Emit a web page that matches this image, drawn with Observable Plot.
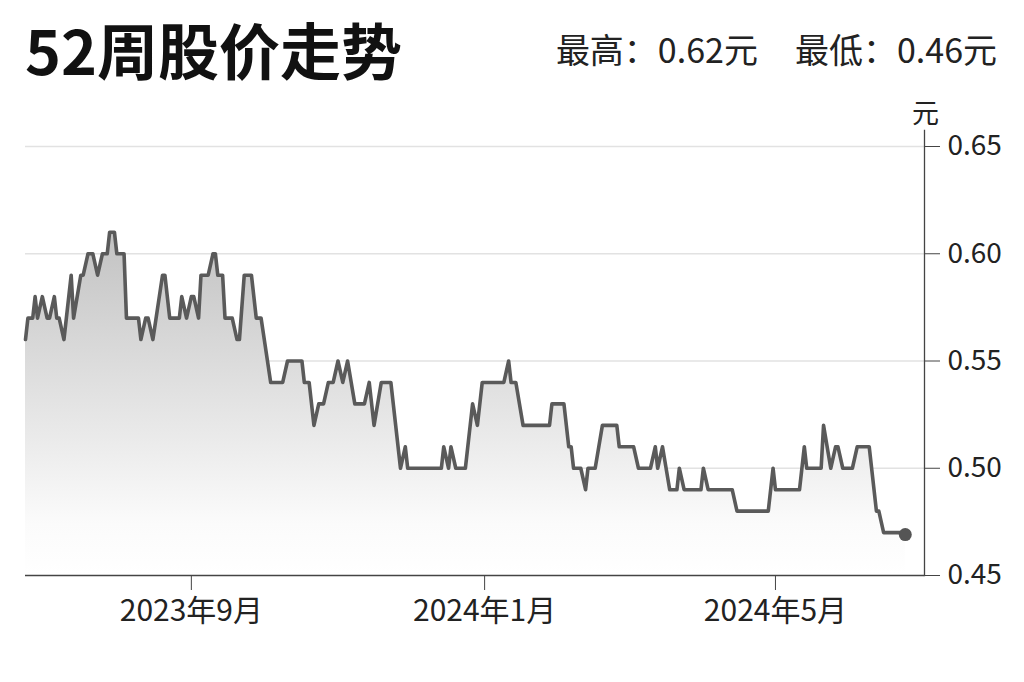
<!DOCTYPE html>
<html>
<head>
<meta charset="utf-8">
<script src="https://cdn.jsdelivr.net/npm/d3@7"></script>
<script src="https://cdn.jsdelivr.net/npm/@observablehq/plot@0.6"></script>
<style>
  body { margin: 0; background: #fff; font-family: "Noto Sans CJK SC", "Noto Sans", sans-serif; }
  #wrap { position: relative; width: 1024px; height: 682px; overflow: hidden; }
  #header { position: relative; height: 100px; }
  #title { position: absolute; left: 25px; top: 18px; font-size: 61px; font-weight: 700; color: #111; line-height: 1; white-space: nowrap; }
  #stats { position: absolute; right: 27px; top: 32px; font-size: 34px; color: #222; line-height: 1; white-space: nowrap; }
  #stats span + span { margin-left: 37px; }
  #unit { position: absolute; left: 912px; top: 98px; font-size: 27px; color: #222; line-height: 1; }
</style>
</head>
<body>
<div id="wrap">
  <div id="header">
    <div id="title"></div>
    <div id="stats"></div>
  </div>
  <div id="unit"></div>
  <div id="chart"></div>
</div>
<script>
// ---- data ----
const title = "52周股价走势";
const statLabels = ["最高：0.62元", "最低：0.46元"];
const unitLabel = "元";

const dates = [
  "2023-06-24","2023-06-25","2023-06-27","2023-06-28","2023-06-29","2023-07-01","2023-07-03","2023-07-04",
  "2023-07-06","2023-07-07","2023-07-08","2023-07-10","2023-07-13","2023-07-14","2023-07-17","2023-07-18",
  "2023-07-20","2023-07-22","2023-07-24","2023-07-26","2023-07-28","2023-07-29","2023-07-31","2023-08-01",
  "2023-08-04","2023-08-05","2023-08-10","2023-08-11","2023-08-13","2023-08-14","2023-08-16","2023-08-20",
  "2023-08-21","2023-08-23","2023-08-27","2023-08-28","2023-08-30","2023-09-01","2023-09-02","2023-09-04",
  "2023-09-05","2023-09-08","2023-09-10","2023-09-11","2023-09-12","2023-09-14","2023-09-15","2023-09-18",
  "2023-09-20","2023-09-21","2023-09-23","2023-09-26","2023-09-28","2023-09-30","2023-10-04","2023-10-09",
  "2023-10-11","2023-10-17","2023-10-18","2023-10-20","2023-10-22","2023-10-24","2023-10-26","2023-10-28",
  "2023-10-30","2023-11-01","2023-11-03","2023-11-05","2023-11-08","2023-11-12","2023-11-14","2023-11-16",
  "2023-11-19","2023-11-23","2023-11-27","2023-11-29","2023-11-30","2023-12-14","2023-12-15","2023-12-17",
  "2023-12-18","2023-12-20","2023-12-24","2023-12-27","2023-12-29","2023-12-31","2024-01-09","2024-01-11",
  "2024-01-12","2024-01-14","2024-01-17","2024-01-28","2024-01-29","2024-02-03","2024-02-05","2024-02-06",
  "2024-02-07","2024-02-10","2024-02-12","2024-02-13","2024-02-16","2024-02-19","2024-02-25","2024-02-26",
  "2024-03-03","2024-03-05","2024-03-10","2024-03-12","2024-03-13","2024-03-15","2024-03-18","2024-03-21",
  "2024-03-22","2024-03-24","2024-03-31","2024-04-01","2024-04-03","2024-04-13","2024-04-15","2024-04-28",
  "2024-04-30","2024-05-01","2024-05-11","2024-05-13","2024-05-14","2024-05-20","2024-05-21","2024-05-24",
  "2024-05-26","2024-05-27","2024-05-29","2024-06-02","2024-06-04","2024-06-09","2024-06-12","2024-06-13",
  "2024-06-15","2024-06-24"
];
const prices = [
  0.56,0.57,0.57,0.58,0.57,0.58,0.57,0.57,
  0.58,0.57,0.57,0.56,0.59,0.57,0.59,0.59,
  0.60,0.60,0.59,0.60,0.60,0.61,0.61,0.60,
  0.60,0.57,0.57,0.56,0.57,0.57,0.56,0.59,
  0.59,0.57,0.57,0.58,0.57,0.58,0.58,0.57,
  0.59,0.59,0.60,0.60,0.59,0.59,0.57,0.57,
  0.56,0.56,0.59,0.59,0.57,0.57,0.54,0.54,
  0.55,0.55,0.54,0.54,0.52,0.53,0.53,0.54,
  0.54,0.55,0.54,0.55,0.53,0.53,0.54,0.52,
  0.54,0.54,0.50,0.51,0.50,0.50,0.51,0.50,
  0.51,0.50,0.50,0.53,0.52,0.54,0.54,0.55,
  0.54,0.54,0.52,0.52,0.53,0.53,0.51,0.51,
  0.50,0.50,0.49,0.50,0.50,0.52,0.52,0.51,
  0.51,0.50,0.50,0.51,0.50,0.51,0.49,0.49,
  0.50,0.49,0.49,0.50,0.49,0.49,0.48,0.48,
  0.50,0.49,0.49,0.51,0.50,0.50,0.52,0.50,
  0.51,0.51,0.50,0.50,0.51,0.51,0.48,0.48,
  0.47,0.47
];
const xDomain = ["2023-06-24", "2024-07-02"];
const xTicks = ["2023-09-01", "2024-01-01", "2024-05-01"];
const xTickLabels = ["2023年9月", "2024年1月", "2024年5月"];
const yDomain = [0.45, 0.65];
const yTicks = [0.45, 0.50, 0.55, 0.60, 0.65];

// ---- header ----
document.getElementById("title").textContent = title;
document.getElementById("stats").innerHTML = statLabels.map(s => `<span>${s}</span>`).join("");
document.getElementById("unit").textContent = unitLabel;

// ---- chart ----
const data = dates.map((d, i) => ({ date: new Date(d), price: prices[i] }));
const tickDates = xTicks.map(d => new Date(d));

const gradient = () => {
  const defs = d3.create("svg:defs");
  const g = defs.append("linearGradient")
    .attr("id", "fade").attr("x1", 0).attr("y1", 0).attr("x2", 0).attr("y2", 1);
  g.append("stop").attr("offset", "0%").attr("stop-color", "#c2c2c2");
  g.append("stop").attr("offset", "85%").attr("stop-color", "#fbfbfb");
  g.append("stop").attr("offset", "100%").attr("stop-color", "#ffffff");
  return defs.node();
};

const chart = Plot.plot({
  width: 1024,
  height: 582,
  marginTop: 30,
  insetTop: 16,
  marginBottom: 107,
  marginLeft: 25,
  marginRight: 100,
  style: { fontFamily: "'Noto Sans CJK SC', 'Noto Sans', sans-serif", color: "#222", background: "#fff" },
  x: { type: "utc", domain: xDomain.map(d => new Date(d)) },
  y: { domain: yDomain },
  marks: [
    gradient,
    Plot.gridY(yTicks.slice(1), { stroke: "#e2e2e2", strokeOpacity: 1, strokeWidth: 1.5 }),
    Plot.areaY(data, { x: "date", y: "price", y1: yDomain[0], fill: "url(#fade)" }),
    Plot.lineY(data, { x: "date", y: "price", stroke: "#5a5a5a", strokeWidth: 3.6, strokeLinejoin: "round" }),
    Plot.dot(data, Plot.selectLast({ x: "date", y: "price", r: 6.5, fill: "#555", stroke: "none", dy: 2 })),
    Plot.ruleY([yDomain[0]], { stroke: "#444", strokeWidth: 1.3 }),
    Plot.frame({ anchor: "right", stroke: "#444", strokeWidth: 1.3 }),
    Plot.axisX({ ticks: tickDates, tickFormat: (d, i) => xTickLabels[i], tickSize: 15, tickPadding: 9,
                 fontSize: 30, label: null, stroke: "#444" }),
    Plot.axisY({ anchor: "right", ticks: yTicks, tickFormat: d3.format(".2f"), tickSize: 15, tickPadding: 8,
                 fontSize: 28, label: null, stroke: "#444" })
  ]
});
document.getElementById("chart").appendChild(chart);
</script>
</body>
</html>
